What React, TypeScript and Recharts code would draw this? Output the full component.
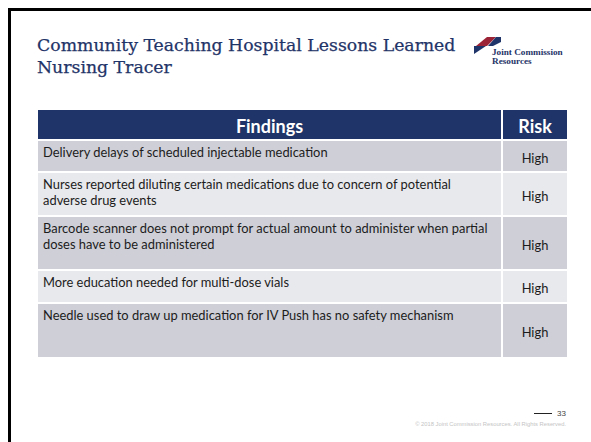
import { ComposedChart, XAxis, YAxis, ReferenceArea } from 'recharts'

const titleLines = ['Community Teaching Hospital Lessons Learned', 'Nursing Tracer']
const headers = ['Findings', 'Risk']
const findings = [
  ['Delivery delays of scheduled injectable medication'],
  ['Nurses reported diluting certain medications due to concern of potential', 'adverse drug events'],
  ['Barcode scanner does not prompt for actual amount to administer when partial', 'doses have to be administered'],
  ['More education needed for multi-dose vials'],
  ['Needle used to draw up medication for IV Push has no safety mechanism'],
]
const risks = ['High', 'High', 'High', 'High', 'High']
const pageNumber = '33'
const copyright = '\u00A9 2018 Joint Commission Resources. All Rights Reserved.'

// table layout, px
const colWidths = [465, 66]
const headerHeight = 31
const rowHeights = [32, 44, 54, 33, 55]

const NAVY = '#1F3468'
const ROW_DARK = '#CFD0D7'
const ROW_LIGHT = '#E8E9EC'
const CELL_FONT = 'Lato, "Open Sans", sans-serif'
const CELL_SIZE = 12.9

const edges = (sizes: number[]) =>
  sizes.reduce((acc, s) => [...acc, acc[acc.length - 1] + s], [0])

const colEdges = edges(colWidths)
const rowEdges = edges([headerHeight, ...rowHeights])
const tableW = colEdges[colEdges.length - 1]
const tableH = rowEdges[rowEdges.length - 1]

const cellShape = (fill: string, render: (x: number, y: number, w: number, h: number) => any) =>
  (p: any) => {
    const { x, y, width, height } = p
    return (
      <g>
        <rect x={x} y={y} width={width} height={height} fill={fill} stroke="#fff" strokeWidth={2} />
        {render(x, y, width, height)}
      </g>
    )
  }

function Table() {
  return (
    <ComposedChart
      width={tableW + 2}
      height={tableH + 2}
      data={risks.map((r, i) => ({ row: i, risk: r }))}
      margin={{ top: 1, right: 1, bottom: 1, left: 1 }}
    >
      <XAxis type="number" dataKey="row" domain={[0, tableW]} hide allowDataOverflow />
      <YAxis type="number" domain={[0, tableH]} reversed hide allowDataOverflow />
      {headers.map((h, c) => (
        <ReferenceArea
          key={'h' + c}
          x1={colEdges[c]}
          x2={colEdges[c + 1]}
          y1={rowEdges[0]}
          y2={rowEdges[1]}
          ifOverflow="visible"
          shape={cellShape(NAVY, (x, y, w, hh) => (
            <text
              x={x + w / 2}
              y={y + hh / 2 + 1}
              textAnchor="middle"
              dominantBaseline="central"
              fontFamily={CELL_FONT}
              fontWeight={700}
              fontSize={18}
              fill="#fff"
            >
              {h}
            </text>
          ))}
        />
      ))}
      {findings.map((lines, i) => (
        <ReferenceArea
          key={'f' + i}
          x1={colEdges[0]}
          x2={colEdges[1]}
          y1={rowEdges[i + 1]}
          y2={rowEdges[i + 2]}
          ifOverflow="visible"
          shape={cellShape(i % 2 === 0 ? ROW_DARK : ROW_LIGHT, (x, y) => (
            <text fontFamily={CELL_FONT} fontSize={CELL_SIZE} fill="#1c1c1c">
              {lines.map((ln, k) => (
                <tspan key={k} x={x + 6} y={y + 17 + k * 15.5}>
                  {ln}
                </tspan>
              ))}
            </text>
          ))}
        />
      ))}
      {risks.map((r, i) => (
        <ReferenceArea
          key={'r' + i}
          x1={colEdges[1]}
          x2={colEdges[2]}
          y1={rowEdges[i + 1]}
          y2={rowEdges[i + 2]}
          ifOverflow="visible"
          shape={cellShape(i % 2 === 0 ? ROW_DARK : ROW_LIGHT, (x, y, w, hh) => (
            <text
              x={x + w / 2}
              y={y + hh / 2 + 1.5}
              textAnchor="middle"
              dominantBaseline="central"
              fontFamily={CELL_FONT}
              fontSize={CELL_SIZE}
              fill="#1c1c1c"
            >
              {r}
            </text>
          ))}
        />
      ))}
    </ComposedChart>
  )
}

export default function App() {
  return (
    <div style={{ position: 'fixed', left: 0, top: 0, width: 591, height: 442, overflow: 'hidden', background: '#fff' }}>
      <div style={{ position: 'absolute', left: 8, top: 8, width: 700, height: 600, border: '3px solid #000' }} />
      <svg width={591} height={442} style={{ position: 'absolute', left: 0, top: 0 }}>
        {titleLines.map((t, i) => (
          <text
            key={t}
            x={37}
            y={51 + i * 22}
            fontFamily='"DejaVu Serif", serif'
            fontSize={17.3}
            fill={NAVY}
            stroke={NAVY}
            strokeWidth={0.25}
          >
            {t}
          </text>
        ))}
        {/* logo */}
        <polygon points="474,54 474,46 486,46" fill={NAVY} />
        <polygon points="476,46 487,37 496,37 487,46" fill="#9B2335" />
        <polygon points="496,37 501,37 501,42 493,46 488,46" fill={NAVY} />
        <text x={492} y={55} fontFamily='"Liberation Serif", serif' fontWeight={700} fontSize={9.2} fill={NAVY}>
          Joint Commission
        </text>
        <text x={492} y={63.5} fontFamily='"Liberation Serif", serif' fontWeight={700} fontSize={9.2} fill={NAVY}>
          Resources
        </text>
        {/* footer */}
        <line x1={534} x2={552} y1={413.5} y2={413.5} stroke="#222" strokeWidth={1} />
        <text x={557} y={416} fontFamily='"Liberation Sans", sans-serif' fontSize={8} fill="#444">
          {pageNumber}
        </text>
        <text x={566} y={426} textAnchor="end" fontFamily='"Liberation Sans", sans-serif' fontSize={5.8} fill="#c4c4c4">
          {copyright}
        </text>
      </svg>
      <div style={{ position: 'absolute', left: 36, top: 108 }}>
        <Table />
      </div>
    </div>
  )
}
